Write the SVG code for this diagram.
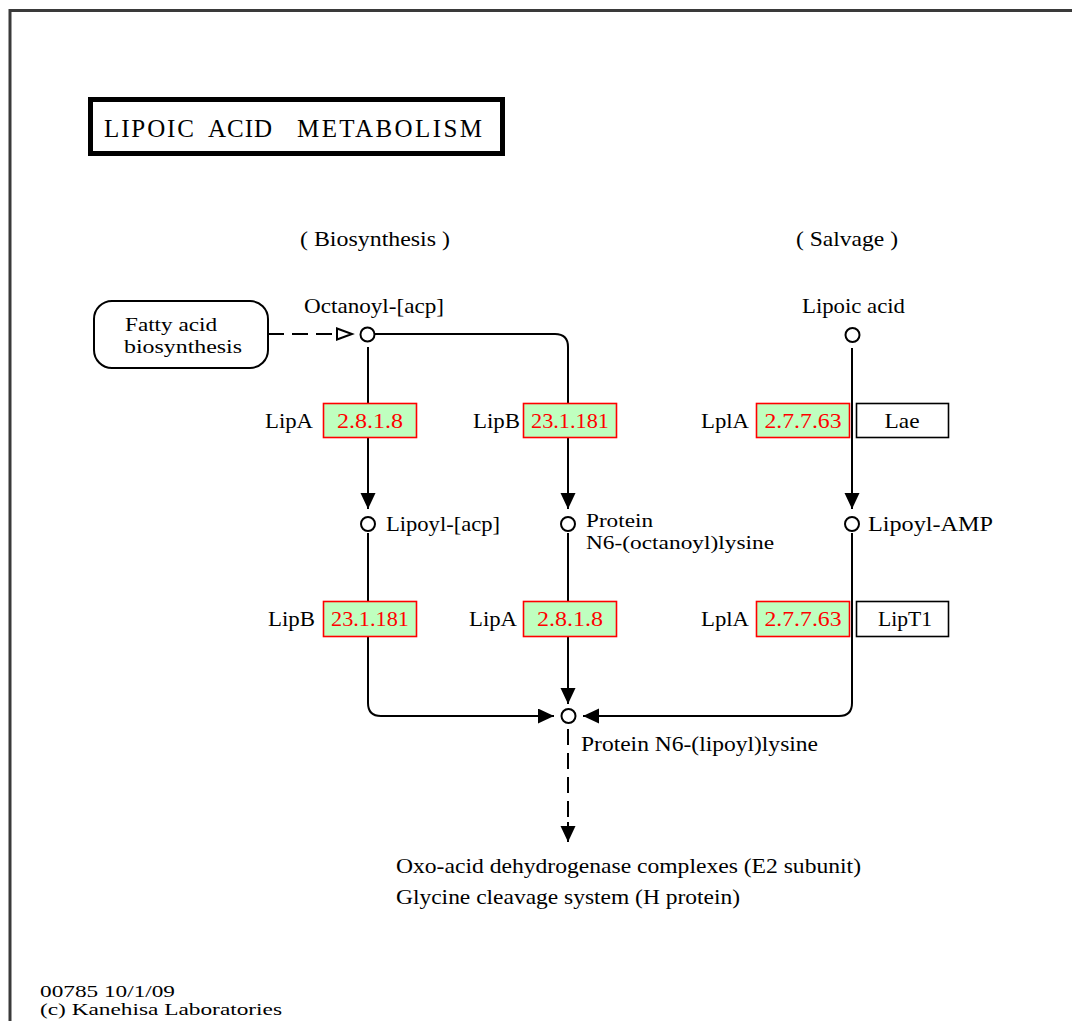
<svg xmlns="http://www.w3.org/2000/svg" width="1072" height="1021" viewBox="0 0 1072 1021">
  <style>
    text { font-family: "Liberation Serif", "Times New Roman", serif; font-size: 22px; fill: #000; }
    .title { font-size: 25px; letter-spacing: 1px; }
    .two { font-size: 19px; }
    .foot { font-size: 16px; }
    .ec { fill: #ff0000; text-anchor: middle; }
    .enz { fill: #bfffbf; stroke: #ff0000; stroke-width: 1.6; }
    .gene { fill: #ffffff; stroke: #000; stroke-width: 1.6; }
    .cpd { fill: #ffffff; stroke: #000; stroke-width: 2; }
    .line { fill: none; stroke: #000; stroke-width: 2; }
    .dash { fill: none; stroke: #000; stroke-width: 2; stroke-dasharray: 16 8; }
    .mid { text-anchor: middle; }
  </style>
  <defs>
    <marker id="arrow" markerUnits="userSpaceOnUse" markerWidth="17" markerHeight="16" refX="16" refY="7.5" orient="auto">
      <path d="M0,0 L16,7.5 L0,15 z" fill="#000"/>
    </marker>
  </defs>

  <rect x="0" y="0" width="1072" height="1021" fill="#fff"/>
  <!-- map frame -->
  <path d="M10,1021 V10.5 H1072" fill="none" stroke="#3a3a3a" stroke-width="3"/>

  <!-- title -->
  <g id="title">
    <rect x="90.5" y="99.5" width="412" height="54" fill="#fff" stroke="#000" stroke-width="5"/>
    <text class="title" x="104" y="137" textLength="91" lengthAdjust="spacing">LIPOIC</text>
    <text class="title" x="208" y="137">ACID</text>
    <text class="title" x="297" y="137" textLength="186" lengthAdjust="spacing">METABOLISM</text>
  </g>

  <!-- section headings -->
  <g id="heading-biosynthesis"><text x="300" y="246" textLength="150" lengthAdjust="spacingAndGlyphs">( Biosynthesis )</text></g>
  <g id="heading-salvage"><text x="796" y="246" textLength="102" lengthAdjust="spacingAndGlyphs">( Salvage )</text></g>

  <!-- connectors -->
  <g id="connectors">
    <path class="dash" d="M268,334 H337"/>
    <polygon points="337,328.5 352,334 337,339.5" fill="#fff" stroke="#000" stroke-width="2"/>
    <path class="line" d="M375,334 H555 Q568,334 568,347 V509" marker-end="url(#arrow)"/>
    <path class="line" d="M368,347 V509" marker-end="url(#arrow)"/>
    <path class="line" d="M852,348 V509" marker-end="url(#arrow)"/>
    <path class="line" d="M368,533 V703 Q368,716 381,716 H554" marker-end="url(#arrow)"/>
    <path class="line" d="M568,533 V704" marker-end="url(#arrow)"/>
    <path class="line" d="M852,533 V703 Q852,716 839,716 H583" marker-end="url(#arrow)"/>
    <path class="dash" d="M568,729 V824"/>
    <path class="line" d="M568,822 V842" marker-end="url(#arrow)" stroke="none"/>
  </g>

  <!-- map link: fatty acid biosynthesis -->
  <g id="map-fatty-acid-biosynthesis">
    <rect x="94" y="301" width="174" height="67" rx="18" ry="18" fill="#fff" stroke="#000" stroke-width="2"/>
    <text class="two" x="125" y="331" textLength="92" lengthAdjust="spacingAndGlyphs">Fatty acid</text>
    <text class="two" x="124" y="353" textLength="118" lengthAdjust="spacingAndGlyphs">biosynthesis</text>
  </g>

  <!-- compounds -->
  <g id="cpd-octanoyl-acp">
    <circle class="cpd" cx="367.5" cy="334.5" r="7"/>
    <text x="304" y="313" textLength="140" lengthAdjust="spacingAndGlyphs">Octanoyl-[acp]</text>
  </g>
  <g id="cpd-lipoic-acid">
    <circle class="cpd" cx="852.5" cy="335" r="7"/>
    <text x="802" y="313" textLength="103" lengthAdjust="spacingAndGlyphs">Lipoic acid</text>
  </g>
  <g id="cpd-lipoyl-acp">
    <circle class="cpd" cx="368" cy="524" r="7"/>
    <text x="386" y="531" textLength="114" lengthAdjust="spacingAndGlyphs">Lipoyl-[acp]</text>
  </g>
  <g id="cpd-octanoyllysine">
    <circle class="cpd" cx="568" cy="524" r="7"/>
    <text class="two" x="586" y="527" textLength="67" lengthAdjust="spacingAndGlyphs">Protein</text>
    <text class="two" x="586" y="549" textLength="188" lengthAdjust="spacingAndGlyphs">N6-(octanoyl)lysine</text>
  </g>
  <g id="cpd-lipoyl-amp">
    <circle class="cpd" cx="852" cy="524" r="7"/>
    <text x="868" y="531" textLength="125" lengthAdjust="spacingAndGlyphs">Lipoyl-AMP</text>
  </g>
  <g id="cpd-lipoyllysine">
    <circle class="cpd" cx="568.5" cy="716" r="7"/>
    <text x="581" y="751" textLength="237" lengthAdjust="spacingAndGlyphs">Protein N6-(lipoyl)lysine</text>
  </g>
  <g id="cpd-downstream">
    <text x="396" y="873" textLength="465" lengthAdjust="spacingAndGlyphs">Oxo-acid dehydrogenase complexes (E2 subunit)</text>
    <text x="396" y="904" textLength="344" lengthAdjust="spacingAndGlyphs">Glycine cleavage system (H protein)</text>
  </g>

  <!-- enzymes, first step -->
  <g id="enz-lipa-1">
    <text x="265" y="428" textLength="48" lengthAdjust="spacingAndGlyphs">LipA</text>
    <rect class="enz" x="323.5" y="403.5" width="93" height="34"/>
    <text class="ec" x="370" y="428" textLength="66" lengthAdjust="spacingAndGlyphs">2.8.1.8</text>
  </g>
  <g id="enz-lipb-1">
    <text x="473" y="428" textLength="47" lengthAdjust="spacingAndGlyphs">LipB</text>
    <rect class="enz" x="523.5" y="403.5" width="93" height="34"/>
    <text class="ec" x="570" y="428" textLength="78" lengthAdjust="spacingAndGlyphs">23.1.181</text>
  </g>
  <g id="enz-lpla-1">
    <text x="701" y="428" textLength="48" lengthAdjust="spacingAndGlyphs">LplA</text>
    <rect class="enz" x="756.5" y="403.5" width="93" height="34"/>
    <text class="ec" x="803" y="428" textLength="77" lengthAdjust="spacingAndGlyphs">2.7.7.63</text>
  </g>
  <g id="gene-lae">
    <rect class="gene" x="856.5" y="403.5" width="92" height="34"/>
    <text class="mid" x="902" y="428" textLength="35" lengthAdjust="spacingAndGlyphs">Lae</text>
  </g>

  <!-- enzymes, second step -->
  <g id="enz-lipb-2">
    <text x="268" y="626" textLength="47" lengthAdjust="spacingAndGlyphs">LipB</text>
    <rect class="enz" x="323.5" y="601.5" width="93" height="35"/>
    <text class="ec" x="370" y="626" textLength="78" lengthAdjust="spacingAndGlyphs">23.1.181</text>
  </g>
  <g id="enz-lipa-2">
    <text x="469" y="626" textLength="48" lengthAdjust="spacingAndGlyphs">LipA</text>
    <rect class="enz" x="523.5" y="601.5" width="93" height="35"/>
    <text class="ec" x="570" y="626" textLength="66" lengthAdjust="spacingAndGlyphs">2.8.1.8</text>
  </g>
  <g id="enz-lpla-2">
    <text x="701" y="626" textLength="48" lengthAdjust="spacingAndGlyphs">LplA</text>
    <rect class="enz" x="756.5" y="601.5" width="93" height="35"/>
    <text class="ec" x="803" y="626" textLength="77" lengthAdjust="spacingAndGlyphs">2.7.7.63</text>
  </g>
  <g id="gene-lipt1">
    <rect class="gene" x="856.5" y="601.5" width="92" height="35"/>
    <text class="mid" x="905" y="626" textLength="54" lengthAdjust="spacingAndGlyphs">LipT1</text>
  </g>

  <!-- footer -->
  <g id="footer">
    <text class="foot" x="40" y="997" textLength="135" lengthAdjust="spacingAndGlyphs">00785 10/1/09</text>
    <text class="foot" x="40" y="1015" textLength="242" lengthAdjust="spacingAndGlyphs">(c) Kanehisa Laboratories</text>
  </g>
</svg>
